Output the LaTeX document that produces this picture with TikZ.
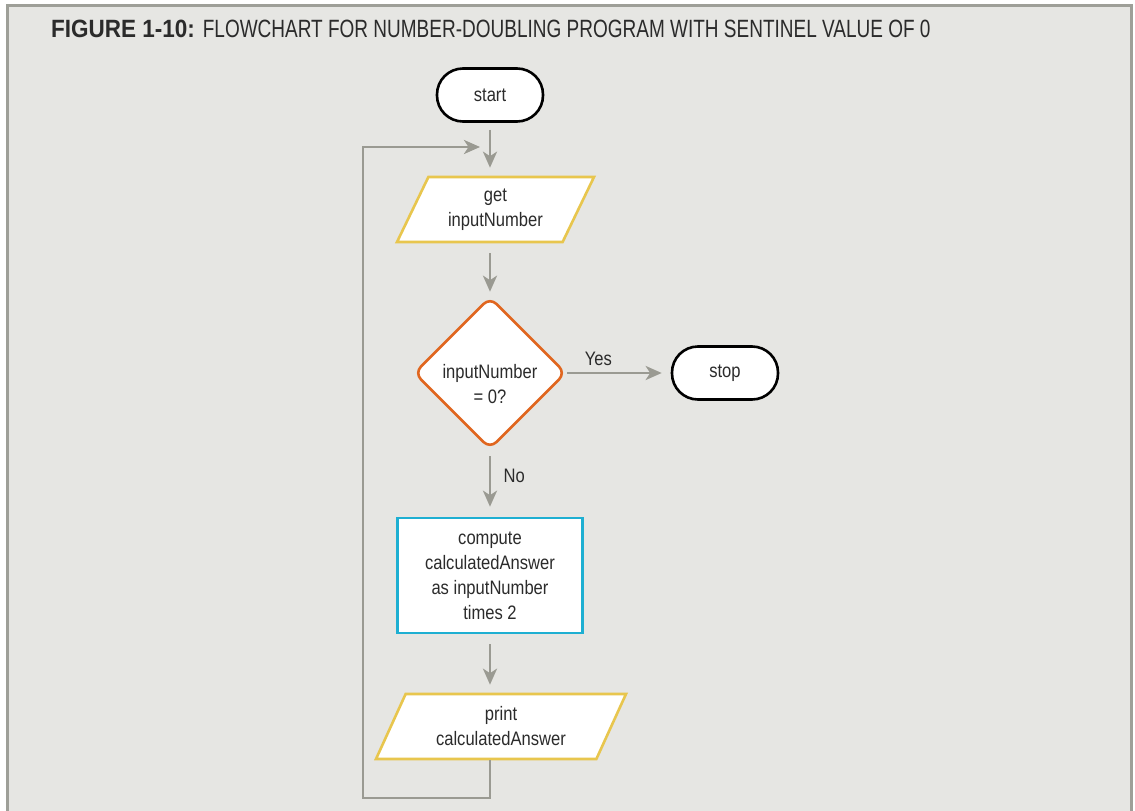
\documentclass[tikz,border=0pt]{standalone}
\usepackage{fontspec}
\setmainfont{Liberation Sans}[FakeStretch=0.85]
\newfontfamily\titlebold{Liberation Sans}[FakeStretch=0.9]
\newfontfamily\titlelight{Liberation Sans}[FakeStretch=0.76]
\usetikzlibrary{shapes.geometric,arrows.meta}
\definecolor{panel}{HTML}{E6E6E3}
\definecolor{framegray}{HTML}{9E9F98}
\definecolor{linegray}{HTML}{9A9A92}
\definecolor{iogold}{HTML}{E8C64E}
\definecolor{deciorange}{HTML}{E0661F}
\definecolor{proccyan}{HTML}{1EAFD2}
\definecolor{inkgray}{HTML}{2B2B2B}
\begin{document}
\begin{tikzpicture}[x=1pt,y=-1pt,
  every node/.style={text=inkgray,font=\fontsize{19.5}{25}\selectfont,align=center},
  terminal/.style={draw=black,fill=white,line width=2.6pt,rectangle,rounded corners=26pt,minimum width=106pt,minimum height=53pt,inner sep=0pt},
  io/.style={draw=iogold,fill=white,line width=2.6pt,trapezium,trapezium left angle=53,trapezium right angle=127,trapezium stretches body,minimum height=65pt,inner sep=0pt},
  decision/.style={draw=deciorange,fill=white,line width=2.6pt,diamond,rounded corners=9pt,minimum size=152pt,inner sep=0pt},
  process/.style={draw=proccyan,fill=white,line width=2.6pt,rectangle,minimum width=185pt,minimum height=115pt,inner sep=0pt},
  flow/.style={draw=linegray,line width=2.8pt,-{Stealth[length=16pt,width=14pt,inset=4.5pt]}}]
\useasboundingbox (0,0) rectangle (1135,811);
\fill[panel] (7.3,5.3) rectangle (1131.7,811);
\draw[framegray,line width=3pt] (7.3,811)--(7.3,5.3)--(1131.7,5.3)--(1131.7,811);
\node[anchor=base west,inner sep=0pt,font=\fontsize{25}{25}\selectfont] (title) at (51,37)
  {{\titlebold\bfseries FIGURE 1-10:} {\titlelight FLOWCHART FOR NUMBER-DOUBLING PROGRAM WITH SENTINEL VALUE OF 0}};
\node[terminal] (start) at (490,95) {start};
\node[io,minimum width=197pt] (get) at (495.5,209.5) {get\\inputNumber};
\node[decision] (dec) at (490,373) {\raisebox{-18.5pt}[0pt][0pt]{\begin{tabular}{@{}c@{}}inputNumber\\= 0?\end{tabular}}};
\node[terminal] (stop) at (725,373) {stop};
\node[process] (calc) at (490,575.5) {compute\\calculatedAnswer\\as inputNumber\\times 2};
\node[io,minimum width=250pt] (print) at (501,726.5) {print\\calculatedAnswer};
\coordinate (join) at (490,147);
\coordinate (corner) at (363,798);
\draw[flow,shorten <=7pt,shorten >=8pt] (start) -- (get.north -| start);
\draw[flow,shorten <=10pt,shorten >=4pt] (get.south -| dec) -- (dec);
\draw[flow,shorten >=9pt] (dec) -- node[above,pos=0.3,yshift=3pt] {Yes} (stop);
\draw[flow,shorten <=6pt,shorten >=10pt] (dec) -- node[right,pos=0.38,xshift=9pt] {No} (calc);
\draw[flow,shorten <=10pt,shorten >=8pt] (calc) -- (print.north -| calc);
\draw[flow] (print.south -| calc) |- (corner) |- ([xshift=-10pt]join);
\end{tikzpicture}
\end{document}
